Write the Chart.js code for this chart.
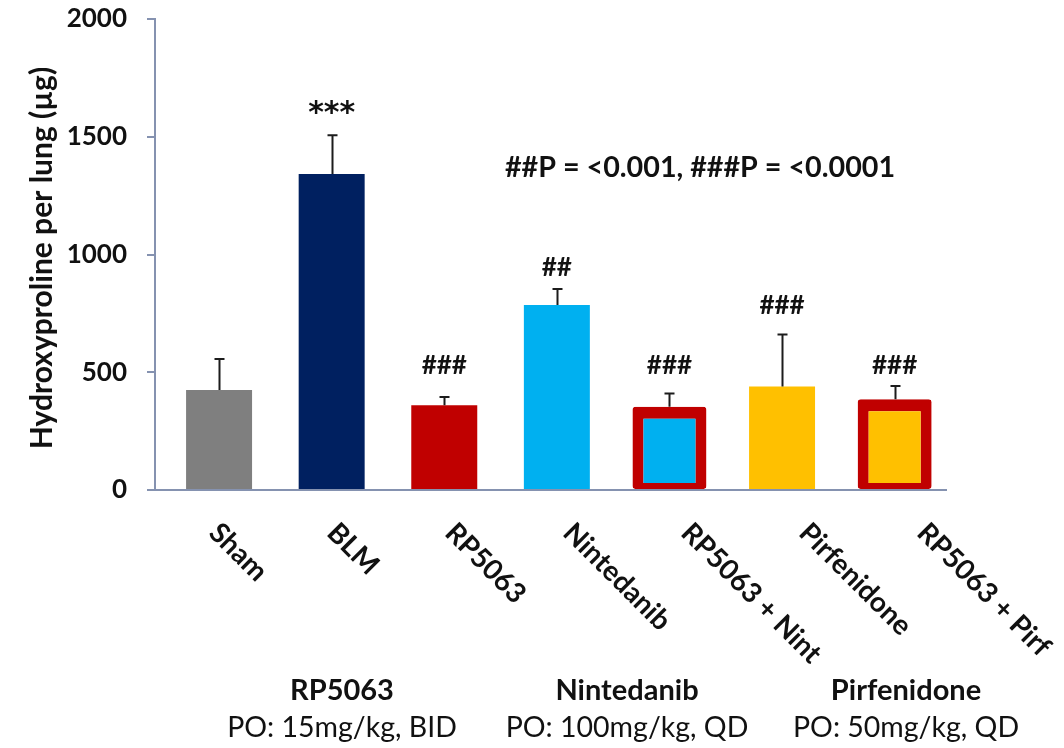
<!DOCTYPE html>
<html><head><meta charset="utf-8">
<script src="https://cdn.jsdelivr.net/npm/chart.js@4/dist/chart.umd.min.js"></script>
<style>html,body{margin:0;padding:0;background:#fff}#wrap{width:1064px;height:748px;position:relative}</style>
</head><body><div id="wrap"><canvas id="c" width="1064" height="748"></canvas></div>
<script>
const categories = ['Sham','BLM','RP5063','Nintedanib','RP5063 + Nint','Pirfenidone','RP5063 + Pirf'];
const meanValues = [425, 1342, 360, 786, 354, 439, 385];
const errorTops = [556, 1506, 395, 853, 410, 660, 442];
const significance = ['', '***', '###', '##', '###', '###', '###'];
const significanceLevels = [null, 1595, 527, 943, 527, 781, 527];
const isCombination = [false, false, false, false, true, false, true];
const yTicks = [0, 500, 1000, 1500, 2000];
const groupNames = ['RP5063', 'Nintedanib', 'Pirfenidone'];
const groupDoses = ['PO: 15mg/kg, BID', 'PO: 100mg/kg, QD', 'PO: 50mg/kg, QD'];
const pValueNote = '##P = <0.001, ###P = <0.0001';
const yTitle = 'Hydroxyproline per lung (µg)';

const fillColors = ['#7f7f7f','#002060','#c00000','#00b0f0','#00b0f0','#ffc000','#ffc000'];
const AXIS = '#8592b0';
const FONT = 'Lato, "Open Sans", sans-serif';

const plainData = meanValues.map((v,i) => ({ x: i, y: isCombination[i] ? null : v }));
const comboData = meanValues.map((v,i) => ({ x: i, y: isCombination[i] ? v : null }));

const overlay = {
  id: 'overlay',
  afterDatasetsDraw(chart) {
    const ctx = chart.ctx, xs = chart.scales.x, ys = chart.scales.y;
    ctx.save();
    // error bars
    ctx.strokeStyle = '#1c1c1c'; ctx.lineWidth = 2;
    errorTops.forEach((e,i) => {
      if (e == null) return;
      const x = Math.round(xs.getPixelForValue(i)) + 0.5;
      const y0 = ys.getPixelForValue(meanValues[i]);
      const y1 = ys.getPixelForValue(e);
      ctx.beginPath();
      ctx.moveTo(x, y0); ctx.lineTo(x, y1);
      ctx.moveTo(x - 5, y1); ctx.lineTo(x + 5, y1);
      ctx.stroke();
    });
    // significance marks
    ctx.fillStyle = '#111';
    ctx.textAlign = 'center'; ctx.textBaseline = 'middle';
    significance.forEach((s,i) => {
      if (!s) return;
      ctx.font = s.includes('*') ? 'bold 30px "DejaVu Sans", sans-serif' : 'bold 26px ' + FONT;
      ctx.fillText(s, xs.getPixelForValue(i), ys.getPixelForValue(significanceLevels[i]));
    });
    // p-value note
    ctx.font = 'bold 28.7px ' + FONT;
    ctx.fillText(pValueNote, 700, 168);
    // rotated category labels
    ctx.font = 'bold 28px ' + FONT;
    ctx.textAlign = 'left'; ctx.textBaseline = 'middle';
    categories.forEach((c,i) => {
      ctx.save();
      ctx.translate(214 + 118 * i, chart.chartArea.bottom + 38);
      ctx.rotate(Math.PI / 4);
      ctx.fillText(c, 0, 0);
      ctx.restore();
    });
    // group labels
    const gx = [342, 627, 906];
    ctx.textAlign = 'center';
    groupNames.forEach((g,i) => {
      ctx.font = 'bold 29px ' + FONT;
      ctx.fillText(g, gx[i], 691);
      ctx.font = '28.5px ' + FONT;
      ctx.fillText(groupDoses[i], gx[i], 728);
    });
    // y title
    ctx.save();
    ctx.translate(42, 258);
    ctx.rotate(-Math.PI / 2);
    ctx.font = 'bold 30px ' + FONT;
    ctx.fillText(yTitle, 0, 0);
    ctx.restore();
    ctx.restore();
  }
};

new Chart(document.getElementById('c'), {
  type: 'bar',
  data: {
    datasets: [
      {
        data: plainData,
        backgroundColor: fillColors,
        borderWidth: 0,
        grouped: false,
        categoryPercentage: 1,
        barPercentage: 0.586
      },
      {
        data: comboData,
        backgroundColor: fillColors,
        borderColor: '#c00000',
        borderWidth: {top: 12, left: 11, right: 11, bottom: 6},
        borderSkipped: false,
        borderRadius: 3,
        grouped: false,
        categoryPercentage: 1,
        barPercentage: 0.657
      }
    ]
  },
  options: {
    responsive: false,
    animation: false,
    devicePixelRatio: 1,
    layout: { autoPadding: false, padding: { top: 19, right: 118, left: 0, bottom: 0 } },
    plugins: { legend: { display: false }, tooltip: { enabled: false }, title: { display: false } },
    scales: {
      x: {
        type: 'linear',
        offset: false,
        min: -0.569, max: 6.456,
        afterBuildTicks(s) { s.ticks = categories.map((c,i) => ({ value: i })); },
        ticks: { display: false },
        grid: { display: false },
        border: { display: true, color: AXIS, width: 2 },
        afterFit(s) { s.height = 258; s.paddingLeft = 0; s.paddingRight = 0; }
      },
      y: {
        min: 0, max: 2000,
        afterBuildTicks(s) { s.ticks = yTicks.map(v => ({ value: v })); },
        ticks: { color: '#111', padding: 20, font: { family: FONT, size: 26, weight: 'bold' },
                 callback: v => String(v) },
        grid: { display: true, drawOnChartArea: false, drawTicks: true, tickLength: 8, color: AXIS, lineWidth: 2 },
        border: { display: true, color: AXIS, width: 2 },
        afterFit(s) { s.width = 155; s.paddingTop = 0; s.paddingBottom = 0; }
      }
    }
  },
  plugins: [overlay]
});
</script>
</body></html>
